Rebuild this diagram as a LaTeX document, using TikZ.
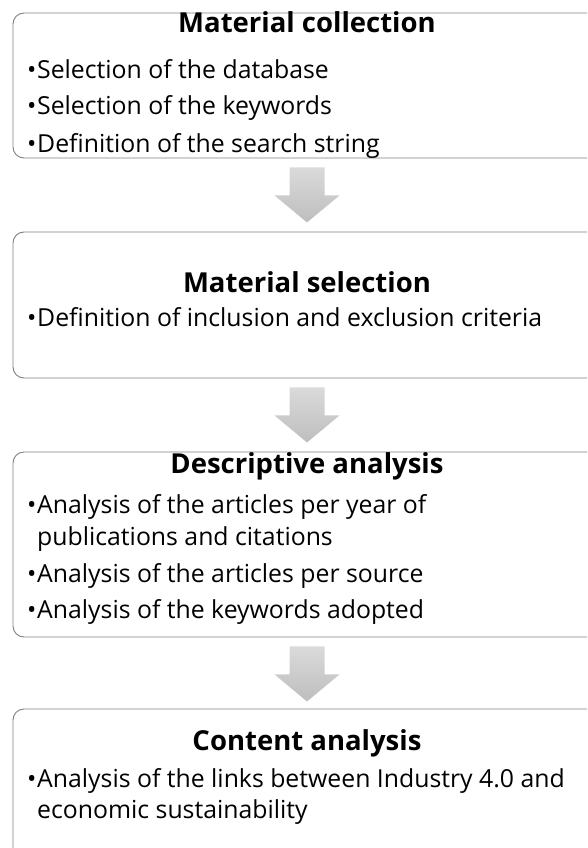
\documentclass[tikz,border=0pt]{standalone}
\usepackage{fontspec}
\setmainfont{Open Sans}
\usetikzlibrary{calc}
\definecolor{framecolor}{RGB}{128,128,128}
\definecolor{arrowtop}{RGB}{218,218,218}
\definecolor{arrowbottom}{RGB}{190,190,190}
\newcommand\itembullet{\makebox[9pt][l]{\hspace{-1pt}\textbullet}}

\begin{document}
\begin{tikzpicture}[
    x=1pt, y=-1pt,
    stage/.style={rectangle, rounded corners=11pt, draw=framecolor, line width=0.9pt, fill=white, minimum width=588pt},
    heading/.style={anchor=base, inner sep=0pt, font=\fontsize{27.5}{32}\selectfont\bfseries},
    item/.style={anchor=base west, inner sep=0pt, font=\fontsize{24.8}{30}\selectfont},
    flow/.style={top color=arrowtop, bottom color=arrowbottom, draw=none}
]

% Page frame
\useasboundingbox (0,0) rectangle (587,848);
\clip (0,0) rectangle (587,848);

% Stage boxes
\node[stage, minimum height=145pt] (collect) at (307,85.5) {};
\node[stage, minimum height=146pt] (select) at (307,305) {};
\node[stage, minimum height=185pt] (descr) at (307,544.5) {};
\node[stage, minimum height=151pt] (content) at (307,784.5) {};

% Material collection
\node[heading] (collecthead) at (307,33) {Material collection};
\node[item] (collect1) at (28,79) {\itembullet Selection of the database};
\node[item] (collect2) at (28,115) {\itembullet Selection of the keywords};
\node[item] (collect3) at (28,152) {\itembullet Definition of the search string};

% Material selection
\node[heading] (selecthead) at (307,292) {Material selection};
\node[item] (select1) at (28,326) {\itembullet Definition of inclusion and exclusion criteria};

% Descriptive analysis
\node[heading] (descrhead) at (307,473) {Descriptive analysis};
\node[item] (descr1) at (28,513) {\itembullet Analysis of the articles per year of};
\node[item] (descr1b) at (37,545) {publications and citations};
\node[item] (descr2) at (28,582) {\itembullet Analysis of the articles per source};
\node[item] (descr3) at (28,618) {\itembullet Analysis of the keywords adopted};

% Content analysis
\node[heading] (contenthead) at (307,750) {Content analysis};
\node[item] (content1) at (28,787) {\itembullet Analysis of the links between Industry 4.0 and};
\node[item] (content1b) at (37,818) {economic sustainability};

% Arrows between stages
\foreach \a in {collect, select, descr}
    \shade[flow] ($(\a.south)+(-17.5,9)$) -- ++(35,0) -- ++(0,28) -- ++(15,0)
        -- ++(-32.5,27) -- ++(-32.5,-27) -- ++(15,0) -- cycle;

\end{tikzpicture}
\end{document}
